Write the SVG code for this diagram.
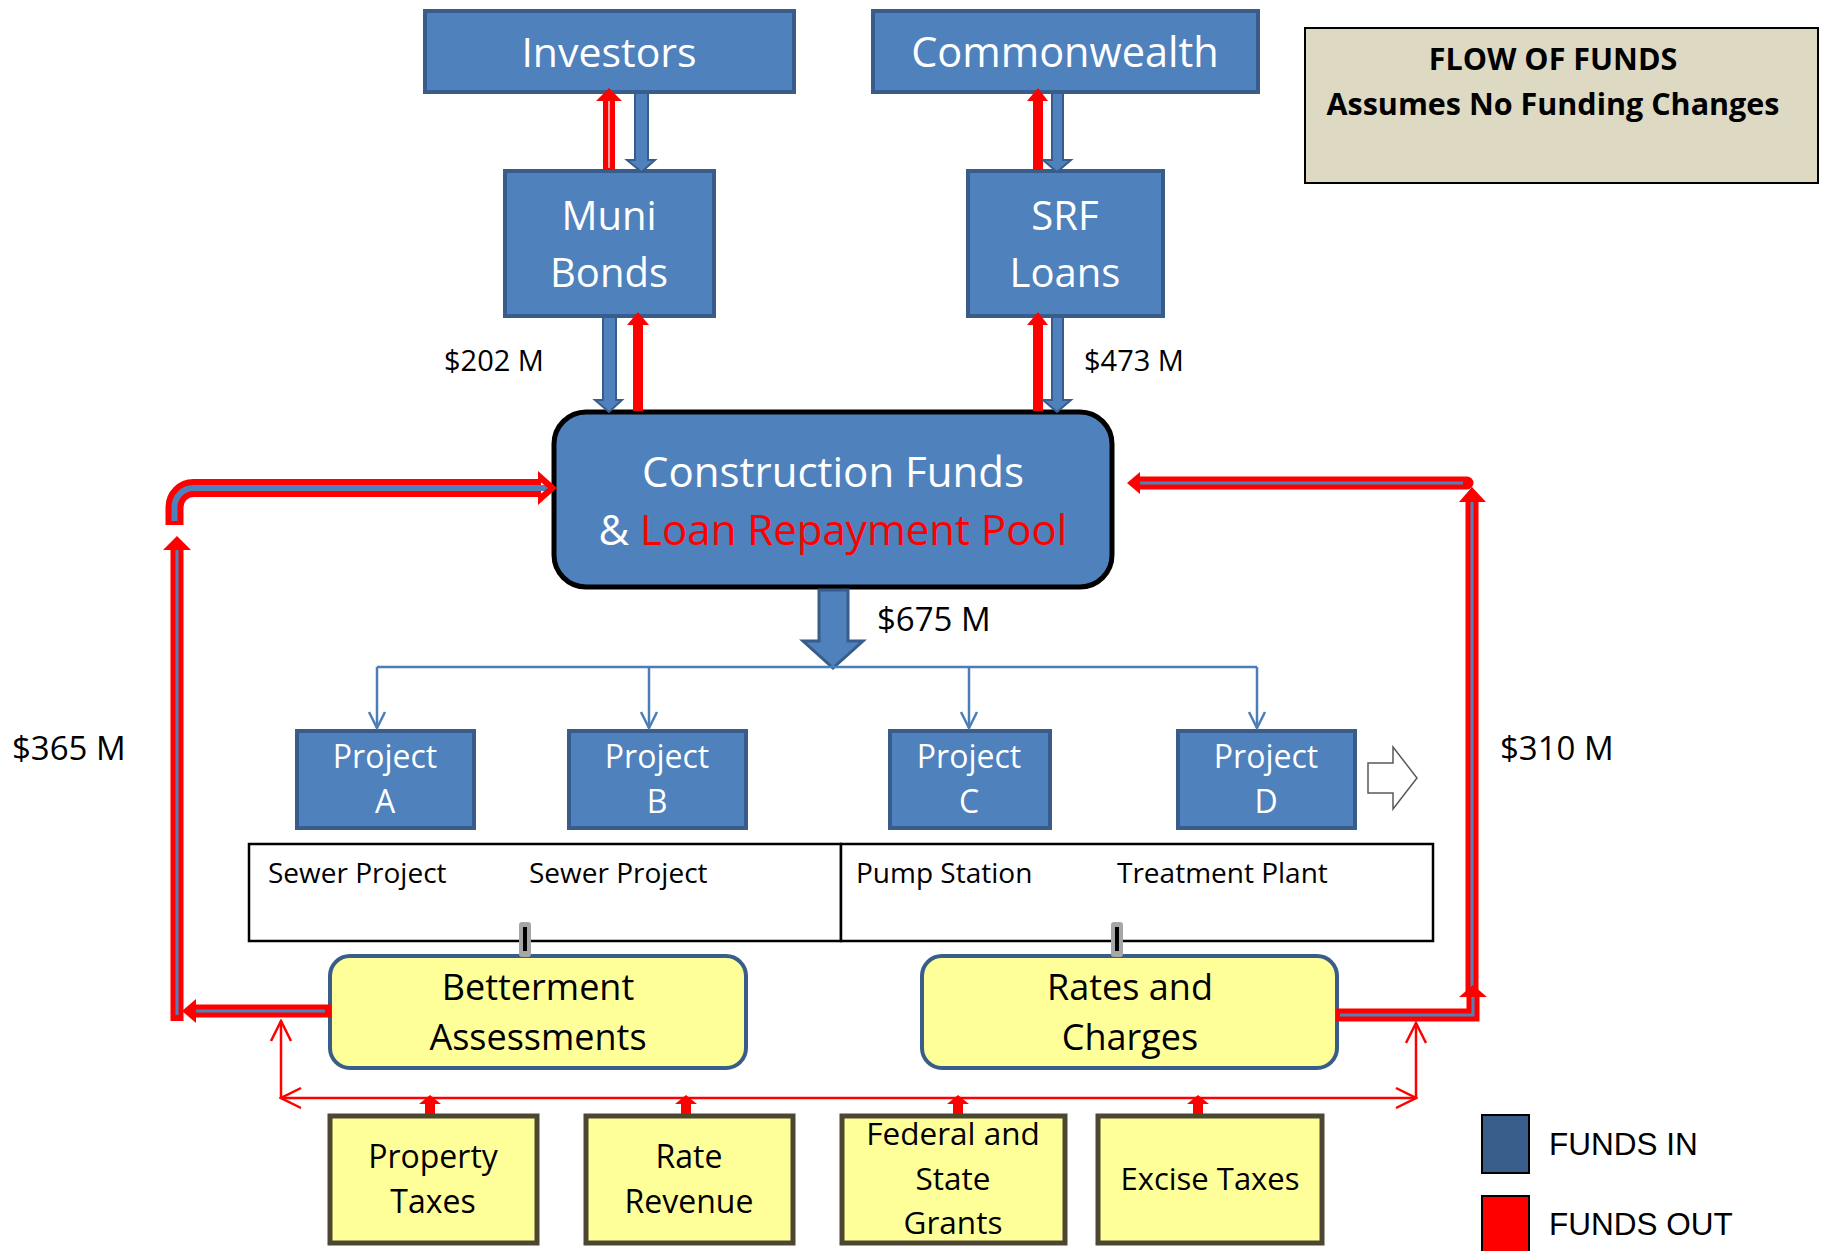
<svg xmlns="http://www.w3.org/2000/svg" width="1828" height="1251" viewBox="0 0 1828 1251">
<defs>
<style>
.bx{fill:#4f81bd;stroke:#385d8a;stroke-width:4}
.wt{font-family:"Open Sans","Noto Sans",sans-serif;fill:#ffffff;text-anchor:middle}
.bk{font-family:"Open Sans","Noto Sans",sans-serif;fill:#000000}
.yl{fill:#ffff99;stroke:#385d8a;stroke-width:4}
.src{fill:#ffff99;stroke:#4d4632;stroke-width:5}
.ba{fill:#4f81bd;stroke:#385d8a;stroke-width:2}
.ra{fill:#ff0000}
.rl{fill:none;stroke:#ff0000;stroke-width:13}
.bl{fill:none;stroke:#4f81bd;stroke-width:3}
.thin{fill:none;stroke:#ff0000;stroke-width:2.5}
.dist{fill:none;stroke:#4a7ebb;stroke-width:2.5}
</style>
<marker id="vb" viewBox="0 0 20 20" refX="18" refY="10" markerWidth="20" markerHeight="20" markerUnits="userSpaceOnUse" orient="auto">
<path d="M2,2 L18,10 L2,18" fill="none" stroke="#4a7ebb" stroke-width="2.5"/>
</marker>
<marker id="vr" viewBox="0 0 24 24" refX="22" refY="12" markerWidth="24" markerHeight="24" markerUnits="userSpaceOnUse" orient="auto-start-reverse">
<path d="M2,2 L22,12 L2,22" fill="none" stroke="#ff0000" stroke-width="2.5"/>
</marker>
</defs>
<rect width="1828" height="1251" fill="#ffffff"/>

<g id="investors">
<rect class="bx" x="425" y="11" width="369" height="81"/>
<text class="wt" x="609" y="67" font-size="41">Investors</text>
</g>
<g id="commonwealth">
<rect class="bx" x="873" y="11" width="385" height="81"/>
<text class="wt" x="1065" y="67" font-size="41.5">Commonwealth</text>
</g>
<g id="muni-bonds">
<rect class="bx" x="505" y="171" width="209" height="145"/>
<text class="wt" x="609" y="230" font-size="40">Muni</text>
<text class="wt" x="609" y="287" font-size="40">Bonds</text>
</g>
<g id="srf-loans">
<rect class="bx" x="968" y="171" width="195" height="145"/>
<text class="wt" x="1065" y="230" font-size="40">SRF</text>
<text class="wt" x="1065" y="287" font-size="40">Loans</text>
</g>
<g id="construction-funds">
<rect x="554" y="412" width="558" height="175" rx="32" fill="#4f81bd" stroke="#000" stroke-width="5"/>
<text class="wt" x="833" y="487" font-size="42">Construction Funds</text>
<text class="wt" x="833" y="545" font-size="42">&amp; <tspan fill="#ff0000">Loan Repayment Pool</tspan></text>
</g>

<g id="labels">
<text class="bk" x="444" y="371" font-size="29">$202 M</text>
<text class="bk" x="1084" y="371" font-size="29">$473 M</text>
<text class="bk" x="877" y="631" font-size="33">$675 M</text>
<text class="bk" x="12" y="760" font-size="33">$365 M</text>
<text class="bk" x="1500" y="760" font-size="33">$310 M</text>
</g>

<g id="project-a">
<rect class="bx" x="297" y="731" width="177" height="97"/>
<text class="wt" x="385" y="768" font-size="32">Project</text>
<text class="wt" x="385" y="813" font-size="32">A</text>
</g>
<g id="project-b">
<rect class="bx" x="569" y="731" width="177" height="97"/>
<text class="wt" x="657" y="768" font-size="32">Project</text>
<text class="wt" x="657" y="813" font-size="32">B</text>
</g>
<g id="project-c">
<rect class="bx" x="890" y="731" width="160" height="97"/>
<text class="wt" x="969" y="768" font-size="32">Project</text>
<text class="wt" x="969" y="813" font-size="32">C</text>
</g>
<g id="project-d">
<rect class="bx" x="1178" y="731" width="177" height="97"/>
<text class="wt" x="1266" y="768" font-size="32">Project</text>
<text class="wt" x="1266" y="813" font-size="32">D</text>
</g>

<g id="project-types">
<rect x="249" y="844" width="592" height="97" fill="#ffffff" stroke="#000" stroke-width="2.5"/>
<rect x="841" y="844" width="592" height="97" fill="#ffffff" stroke="#000" stroke-width="2.5"/>
<text class="bk" x="268" y="883" font-size="28">Sewer Project</text>
<text class="bk" x="529" y="883" font-size="28">Sewer Project</text>
<text class="bk" x="856" y="883" font-size="28">Pump Station</text>
<text class="bk" x="1117" y="883" font-size="28">Treatment Plant</text>
</g>

<g id="betterment">
<rect class="yl" x="330" y="956" width="416" height="112" rx="20"/>
<text class="bk" x="538" y="1000" font-size="36" text-anchor="middle">Betterment</text>
<text class="bk" x="538" y="1050" font-size="36" text-anchor="middle">Assessments</text>
</g>
<g id="rates">
<rect class="yl" x="922" y="956" width="415" height="112" rx="20"/>
<text class="bk" x="1130" y="1000" font-size="36" text-anchor="middle">Rates and</text>
<text class="bk" x="1130" y="1050" font-size="36" text-anchor="middle">Charges</text>
</g>

<g id="property-taxes">
<rect class="src" x="330" y="1116" width="207" height="127"/>
<text class="bk" x="433" y="1168" font-size="32" text-anchor="middle">Property</text>
<text class="bk" x="433" y="1213" font-size="32" text-anchor="middle">Taxes</text>
</g>
<g id="rate-revenue">
<rect class="src" x="586" y="1116" width="207" height="127"/>
<text class="bk" x="689" y="1168" font-size="32" text-anchor="middle">Rate</text>
<text class="bk" x="689" y="1213" font-size="32" text-anchor="middle">Revenue</text>
</g>
<g id="grants">
<rect class="src" x="842" y="1116" width="223" height="127"/>
<text class="bk" x="953" y="1145" font-size="31.5" text-anchor="middle">Federal and</text>
<text class="bk" x="953" y="1190" font-size="31.5" text-anchor="middle">State</text>
<text class="bk" x="953" y="1234" font-size="31.5" text-anchor="middle">Grants</text>
</g>
<g id="excise-taxes">
<rect class="src" x="1098" y="1116" width="224" height="127"/>
<text class="bk" x="1210" y="1190" font-size="31" text-anchor="middle">Excise Taxes</text>
</g>

<g id="title">
<rect x="1305" y="28" width="513" height="155" fill="#ddd9c3" stroke="#000" stroke-width="2"/>
<text class="bk" x="1553" y="70" font-size="30.5" font-weight="bold" text-anchor="middle">FLOW OF FUNDS</text>
<text class="bk" x="1553" y="115" font-size="30.5" font-weight="bold" text-anchor="middle">Assumes No Funding Changes</text>
</g>

<g id="legend">
<rect x="1482" y="1115" width="47" height="58" fill="#385d8a" stroke="#000" stroke-width="2"/>
<text x="1549" y="1155" font-family="Liberation Sans, Arial, sans-serif" font-size="31.5">FUNDS IN</text>
<rect x="1482" y="1196" width="47" height="60" fill="#ff0000" stroke="#000" stroke-width="2"/>
<text x="1549" y="1235" font-family="Liberation Sans, Arial, sans-serif" font-size="31.5">FUNDS OUT</text>
</g>

<g id="connectors">
<!-- Investors / Muni -->
<polygon class="ba" points="635,93 648,93 648,160 655,160 641.5,172 627,160 635,160"/>
<polygon class="ra" points="603,170 615,170 615,101 622,101 609,88 596,101 603,101"/>
<line x1="609" y1="168" x2="609" y2="101" stroke="#f0a0a0" stroke-width="2"/>
<!-- Muni / CF -->
<polygon class="ba" points="603,317 616,317 616,400 622,400 609,412 595,400 603,400"/>
<polygon class="ra" points="633,411 643,411 643,325 649,325 638,312 627,325 633,325"/>
<!-- Commonwealth / SRF -->
<polygon class="ra" points="1033,170 1043,170 1043,101 1048,101 1038,88 1027,101 1033,101"/>
<polygon class="ba" points="1052,93 1063,93 1063,160 1071,160 1057,172 1043,160 1052,160"/>
<!-- SRF / CF -->
<polygon class="ra" points="1033,411 1043,411 1043,325 1048,325 1038,312 1027,325 1033,325"/>
<polygon class="ba" points="1052,317 1063,317 1063,400 1071,400 1057,412 1043,400 1052,400"/>
<!-- $675 big arrow -->
<polygon points="819,590 848,590 848,641 863,641 833,668 803,641 819,641" fill="#4f81bd" stroke="#385d8a" stroke-width="3"/>
<!-- distribution -->
<polyline class="dist" points="377,667 1257,667"/>
<line class="dist" x1="377" y1="667" x2="377" y2="728" marker-end="url(#vb)"/>
<line class="dist" x1="649" y1="667" x2="649" y2="728" marker-end="url(#vb)"/>
<line class="dist" x1="969" y1="667" x2="969" y2="728" marker-end="url(#vb)"/>
<line class="dist" x1="1257" y1="667" x2="1257" y2="728" marker-end="url(#vb)"/>
<!-- left bent arrow into CF -->
<path d="M174.5,525 V507 A19,19 0 0 1 193.5,488 H541" fill="none" stroke="#ff0000" stroke-width="18"/>
<path d="M174.5,521 V507 A19,19 0 0 1 193.5,488 H548" fill="none" stroke="#4f81bd" stroke-width="6"/>
<polygon points="538,471 557,488 538,505 538,496 548,488 538,480" fill="#ff0000"/>
<!-- left vertical -->
<line class="rl" x1="177" y1="1021" x2="177" y2="549"/>
<line class="bl" x1="177" y1="1015" x2="177" y2="549"/>
<polygon class="ra" points="163,550 177,536 191,550"/>
<!-- Betterment to left -->
<line class="rl" x1="331" y1="1011" x2="195" y2="1011"/>
<line class="bl" x1="325" y1="1011" x2="190" y2="1011"/>
<polygon class="ra" points="196,999 182,1011 196,1023"/>
<!-- right top horizontal into CF -->
<line class="rl" x1="1467" y1="483" x2="1139" y2="483" stroke-linecap="round"/>
<line class="bl" x1="1463" y1="483" x2="1135" y2="483"/>
<polygon class="ra" points="1140,472 1127,483 1140,494"/>
<!-- right vertical -->
<line class="rl" x1="1472" y1="995" x2="1472" y2="501"/>
<line class="bl" x1="1472" y1="990" x2="1472" y2="500"/>
<polygon class="ra" points="1459,502 1472,487 1486,502"/>
<!-- Rates elbow -->
<polyline class="rl" points="1336,1015 1473,1015 1473,996"/>
<polyline class="bl" points="1340,1015 1473,1015 1473,994"/>
<polygon class="ra" points="1459,997 1473,985 1487,997"/>
<!-- thin red distribution line -->
<line class="thin" x1="281" y1="1098" x2="1416" y2="1098" marker-start="url(#vr)" marker-end="url(#vr)"/>
<line class="thin" x1="281" y1="1098" x2="281" y2="1021" marker-end="url(#vr)"/>
<line class="thin" x1="1416" y1="1098" x2="1416" y2="1023" marker-end="url(#vr)"/>
<!-- small red arrows from sources -->
<polygon class="ra" points="425,1114 435,1114 435,1104 441,1104 430,1095 419,1104 425,1104"/>
<polygon class="ra" points="681,1114 691,1114 691,1104 697,1104 686,1095 675,1104 681,1104"/>
<polygon class="ra" points="953,1114 963,1114 963,1104 969,1104 958,1095 947,1104 953,1104"/>
<polygon class="ra" points="1193,1114 1203,1114 1203,1104 1209,1104 1198,1095 1187,1104 1193,1104"/>
<!-- grey connectors -->
<rect x="519" y="922" width="12" height="35" rx="3" fill="#a6a6a6"/>
<line x1="525" y1="927" x2="525" y2="951" stroke="#000" stroke-width="4"/>
<rect x="1111" y="922" width="12" height="35" rx="3" fill="#a6a6a6"/>
<line x1="1117" y1="927" x2="1117" y2="951" stroke="#000" stroke-width="4"/>
<!-- outline block arrow -->
<polygon points="1368,763 1393,763 1393,747 1417,778 1393,809 1393,793 1368,793" fill="#ffffff" stroke="#595959" stroke-width="1.5"/>
</g>
</svg>
